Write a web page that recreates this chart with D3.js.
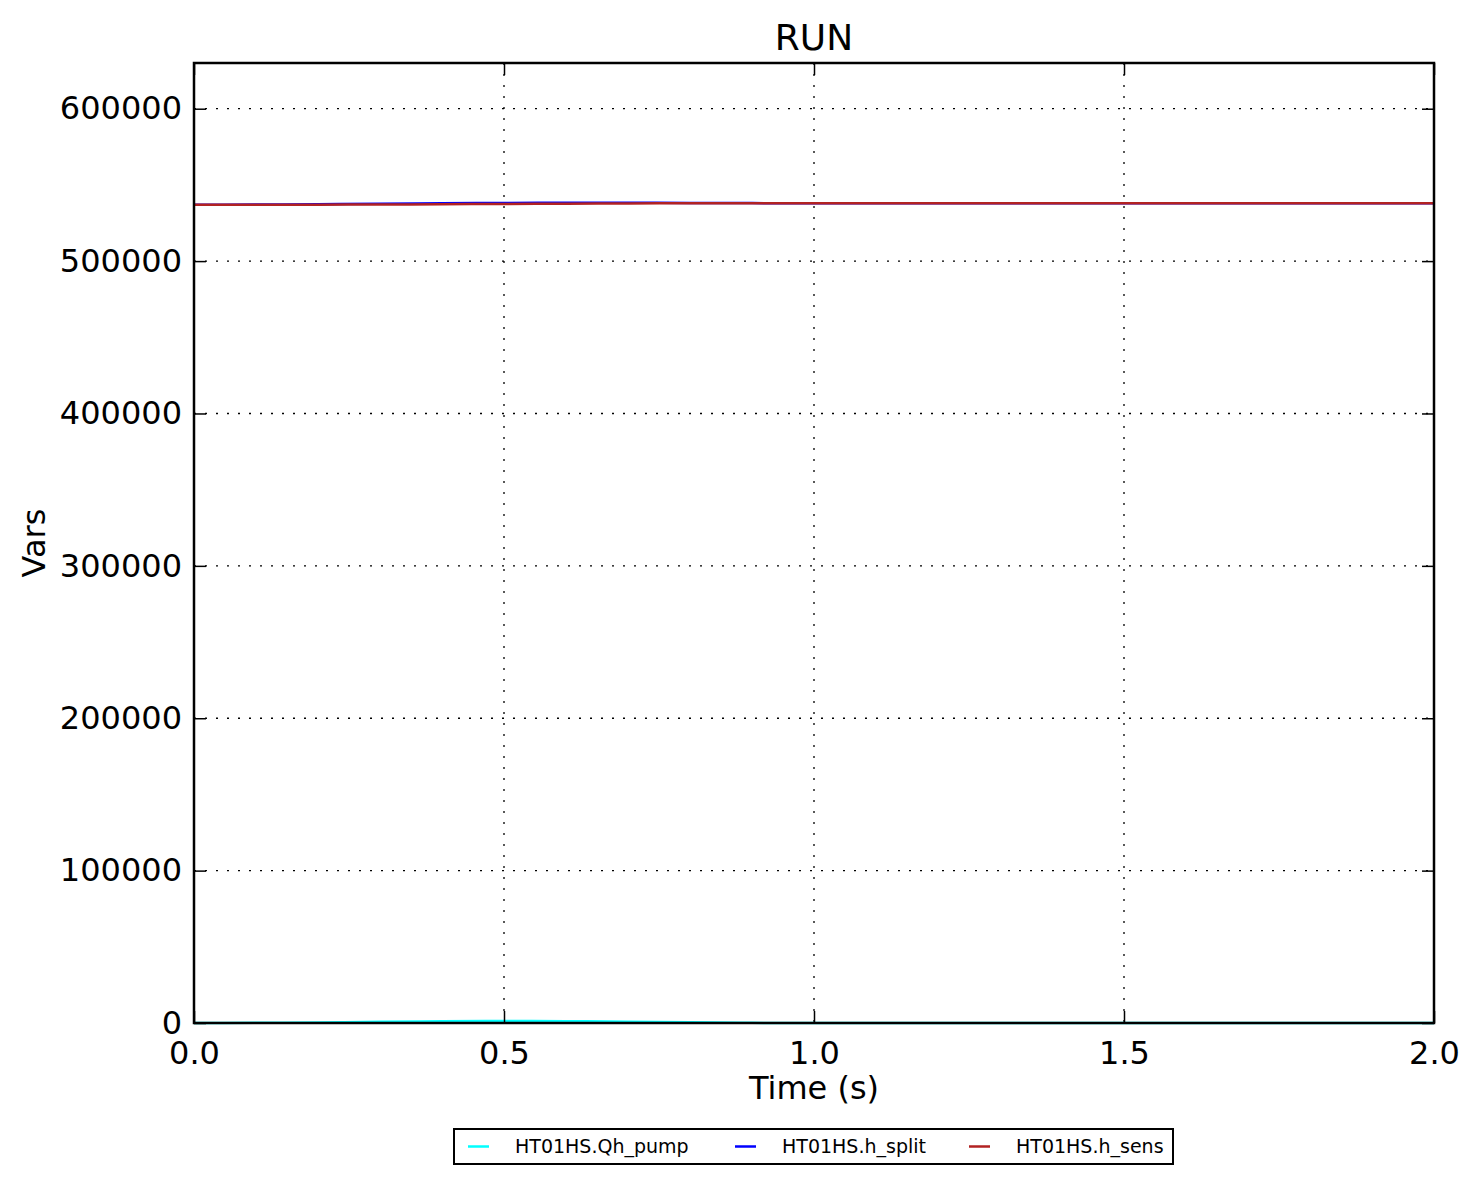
<!DOCTYPE html>
<html>
<head>
<meta charset="utf-8">
<script src="https://cdn.jsdelivr.net/npm/d3@7"></script>
<style>
  body { margin: 0; background: #fff; }
  text { font-family: "DejaVu Sans", sans-serif; fill: #000; }
</style>
</head>
<body>
<script>
// Data
let time = [0, 0.1, 0.2, 0.3, 0.4, 0.5, 0.6, 0.7, 0.8, 0.9, 1.0, 1.25, 1.5, 1.75, 2.0];
let qhPump = [0, 150, 400, 750, 1100, 1300, 1200, 900, 450, 100, 0, 0, 0, 0, 0];
let hSplit = [537000, 537100, 537300, 537650, 537950, 538150, 538250, 538250, 538150, 538050, 538000, 538000, 538000, 538000, 538000];
let hSens = [537000, 537000, 537050, 537150, 537300, 537500, 537700, 537850, 537950, 538000, 538000, 538000, 538000, 538000, 538000];
let seriesNames = ["HT01HS.Qh_pump", "HT01HS.h_split", "HT01HS.h_sens"];
let seriesColors = ["#00ffff", "#0000ff", "#b22222"];
let xTicks = [0, 0.5, 1.0, 1.5, 2.0];
let yTicks = [0, 100000, 200000, 300000, 400000, 500000, 600000];

let svgWidth = 1477;
let svgHeight = 1184;
let margin = { top: 63, right: 43, bottom: 161, left: 194 };
let chartWidth = svgWidth - margin.left - margin.right;
let chartHeight = svgHeight - margin.top - margin.bottom;

let svg = d3.select("body").append("svg")
  .attr("width", svgWidth)
  .attr("height", svgHeight);

let g = svg.append("g")
  .attr("transform", `translate(${margin.left}, ${margin.top})`);

let xScale = d3.scaleLinear().domain([0, 2]).range([0, chartWidth]);
let yScale = d3.scaleLinear().domain([0, 630000]).range([chartHeight, 0]);

// grid
g.selectAll(".vgrid").data(xTicks.slice(1, -1)).enter().append("line")
  .attr("x1", d => xScale(d)).attr("x2", d => xScale(d))
  .attr("y1", 0).attr("y2", chartHeight)
  .attr("stroke", "#000").attr("stroke-width", 1.3)
  .attr("stroke-dasharray", "2,9");
g.selectAll(".hgrid").data(yTicks.slice(1)).enter().append("line")
  .attr("x1", 0).attr("x2", chartWidth)
  .attr("y1", d => yScale(d)).attr("y2", d => yScale(d))
  .attr("stroke", "#000").attr("stroke-width", 1.3)
  .attr("stroke-dasharray", "2,9");

// lines
let allSeries = [qhPump, hSplit, hSens];
let line = d3.line()
  .x((d, i) => xScale(time[i]))
  .y(d => yScale(d))
  .curve(d3.curveMonotoneX);

allSeries.forEach((vals, k) => {
  g.append("path")
    .datum(vals)
    .attr("fill", "none")
    .attr("stroke", seriesColors[k])
    .attr("stroke-width", 2.5)
    .attr("d", line);
});

// axes with inward ticks
let tickLen = 12;
let xAxis = d3.axisBottom(xScale).tickValues(xTicks).tickFormat(d3.format(".1f"))
  .tickSizeInner(-tickLen).tickSizeOuter(0).tickPadding(18);
let yAxis = d3.axisLeft(yScale).tickValues(yTicks).tickFormat(d3.format("d"))
  .tickSizeInner(-tickLen).tickSizeOuter(0).tickPadding(12);

let xg = g.append("g").attr("transform", `translate(0, ${chartHeight})`).call(xAxis);
let yg = g.append("g").call(yAxis);
[xg, yg].forEach(a => {
  a.select(".domain").remove();
  a.selectAll("line").attr("stroke", "#000").attr("stroke-width", 1.5);
  a.selectAll("text").style("font-size", "32px").style("font-family", "DejaVu Sans");
});

// top and right ticks
g.append("g").call(d3.axisTop(xScale).tickValues(xTicks).tickSizeInner(-tickLen).tickSizeOuter(0).tickFormat(""))
  .call(a => { a.select(".domain").remove(); a.selectAll("line").attr("stroke", "#000").attr("stroke-width", 1.5); });
g.append("g").attr("transform", `translate(${chartWidth}, 0)`)
  .call(d3.axisRight(yScale).tickValues(yTicks).tickSizeInner(-tickLen).tickSizeOuter(0).tickFormat(""))
  .call(a => { a.select(".domain").remove(); a.selectAll("line").attr("stroke", "#000").attr("stroke-width", 1.5); });

// frame
g.append("rect")
  .attr("width", chartWidth).attr("height", chartHeight)
  .attr("fill", "none").attr("stroke", "#000").attr("stroke-width", 2.5);

// title and labels
svg.append("text")
  .attr("x", margin.left + chartWidth / 2).attr("y", 50)
  .attr("text-anchor", "middle").style("font-size", "36px")
  .text("RUN");

svg.append("text")
  .attr("x", margin.left + chartWidth / 2).attr("y", 1099)
  .attr("text-anchor", "middle").style("font-size", "32px")
  .text("Time (s)");

svg.append("text")
  .attr("transform", `translate(45, ${margin.top + chartHeight / 2}) rotate(-90)`)
  .attr("text-anchor", "middle").style("font-size", "32px")
  .text("Vars");

// legend
let legend = svg.append("g").attr("transform", "translate(454, 1129)");
legend.append("rect")
  .attr("width", 719).attr("height", 35)
  .attr("fill", "#fff").attr("stroke", "#000").attr("stroke-width", 2);
let legendX = [14, 281, 515];
seriesNames.forEach((name, k) => {
  let item = legend.append("g").attr("transform", `translate(${legendX[k]}, 17.5)`);
  item.append("line")
    .attr("x1", 0).attr("x2", 21).attr("y1", 0).attr("y2", 0)
    .attr("stroke", seriesColors[k]).attr("stroke-width", 2.5);
  item.append("text")
    .attr("x", 47).attr("y", 6.5)
    .style("font-size", "19px")
    .text(name);
});
</script>
</body>
</html>
